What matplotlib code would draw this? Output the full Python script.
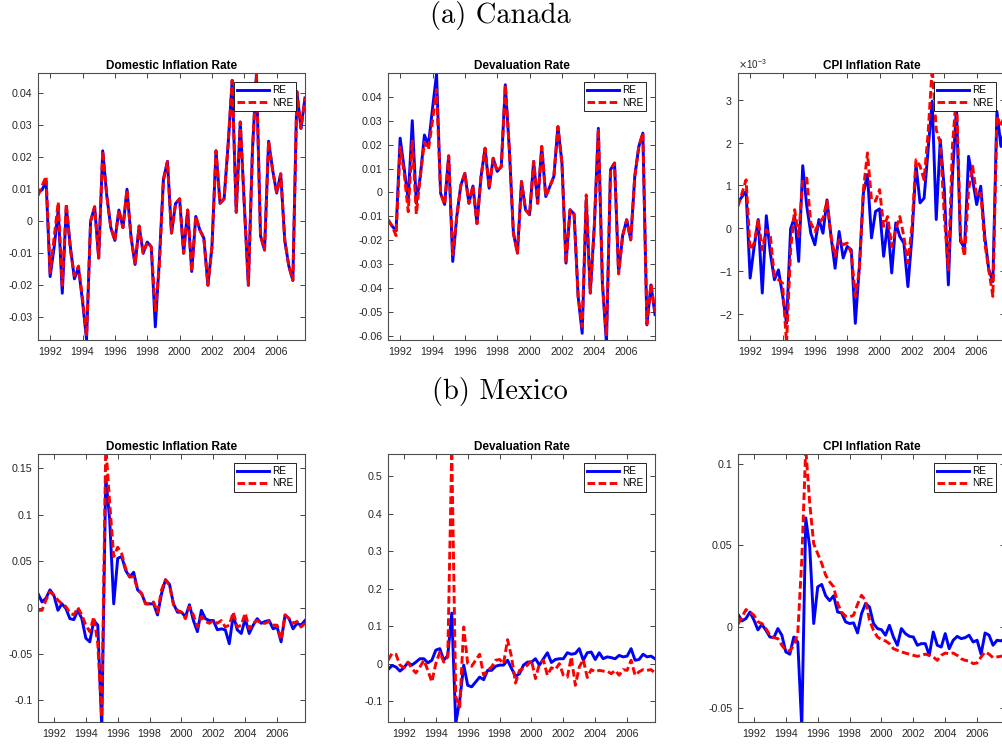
import numpy as np
import matplotlib
matplotlib.use("Agg")
import matplotlib.pyplot as plt
from matplotlib.ticker import MultipleLocator, FuncFormatter, ScalarFormatter
from matplotlib.lines import Line2D

plt.rcParams["font.family"] = ["Liberation Sans", "DejaVu Sans"]
plt.rcParams["axes.unicode_minus"] = False

# quarterly sample, Canada 1991Q2-2007Q4, Mexico 1991Q1-2007Q4
can_start, can_n = 1991.25, 67
mex_start, mex_n = 1991.0, 68

# ---- Canada ----
can_dom_re = [0.009, 0.0098, 0.0124, -0.0173, -0.008, 0.0035, -0.0225, 0.0045, -0.008, -0.018,
              -0.0145, -0.025, -0.037, 0.0, 0.0045, -0.0115, 0.022, 0.008, -0.002, -0.006,
              0.0035, -0.002, 0.01, -0.005, -0.0135, -0.0015, -0.01, -0.0065, -0.008, -0.033,
              -0.012, 0.013, 0.0187, -0.0037, 0.0055, 0.007, -0.01, 0.0035, -0.0157, 0.0015,
              -0.0027, -0.0053, -0.02, -0.008, 0.022, 0.0056, 0.007, 0.024, 0.044, 0.0028,
              0.031, 0.005, -0.02, 0.022, 0.046, -0.0045, -0.009, 0.025, 0.016, 0.0088,
              0.0148, -0.006, -0.014, -0.0185, 0.0405, 0.029, 0.0385]
can_dom_nre = [0.008, 0.011, 0.014, -0.016, -0.005, 0.006, -0.02, 0.0055, -0.009, -0.017,
               -0.014, -0.024, -0.036, 0.0, 0.0045, -0.0115, 0.022, 0.008, -0.002, -0.006,
               0.0035, -0.002, 0.01, -0.005, -0.0135, -0.0015, -0.01, -0.0065, -0.008, -0.028,
               -0.014, 0.013, 0.0187, -0.0037, 0.0055, 0.007, -0.01, 0.0035, -0.0157, 0.0015,
               -0.0027, -0.0053, -0.02, -0.008, 0.022, 0.0056, 0.007, 0.024, 0.044, 0.0028,
               0.031, 0.005, -0.02, 0.022, 0.046, -0.0045, -0.009, 0.025, 0.016, 0.0088,
               0.0148, -0.006, -0.014, -0.0185, 0.0405, 0.029, 0.0385]

can_dev_re = [-0.0114, -0.014, -0.016, 0.0227, 0.01, -0.003, 0.03, -0.0045, 0.007, 0.024,
              0.02, 0.035, 0.0495, -0.0003, -0.005, 0.0153, -0.0288, -0.01, 0.003, 0.008,
              -0.0045, 0.0027, -0.013, 0.0067, 0.0185, 0.0018, 0.0143, 0.0088, 0.0108, 0.045,
              0.0178, -0.017, -0.0253, 0.0046, -0.0072, -0.0093, 0.013, -0.0045, 0.0192, -0.0017,
              0.0025, 0.0067, 0.0275, 0.0123, -0.0295, -0.0072, -0.009, -0.0435, -0.0588, -0.003,
              -0.042, -0.014, 0.0268, -0.038, -0.063, 0.0095, 0.0123, -0.0337, -0.018, -0.0114,
              -0.0198, 0.0067, 0.0192, 0.0248, -0.0553, -0.0386, -0.051]
can_dev_nre = [-0.0114, -0.014, -0.018, 0.019, 0.008, -0.008, 0.022, -0.009, 0.007, 0.021,
               0.018, 0.03, 0.043, -0.0003, -0.005, 0.0153, -0.026, -0.01, 0.003, 0.008,
               -0.0045, 0.0027, -0.013, 0.0067, 0.0185, 0.0018, 0.0143, 0.0088, 0.0108, 0.045,
               0.0178, -0.017, -0.0253, 0.0046, -0.0072, -0.0093, 0.013, -0.0045, 0.0192, -0.0017,
               0.0025, 0.0067, 0.0275, 0.0123, -0.0295, -0.0072, -0.009, -0.0435, -0.056, -0.001,
               -0.042, -0.014, 0.0268, -0.038, -0.06, 0.0095, 0.0123, -0.034, -0.018, -0.0114,
               -0.0198, 0.0067, 0.0192, 0.0248, -0.055, -0.038, -0.05]

# CPI inflation, in units of 1e-3
can_cpi_re = [0.59, 0.74, 0.86, -1.17, -0.43, 0.2, -1.52, 0.29, -0.59, -1.21,
              -0.98, -1.56, -2.23, -0.02, 0.27, -0.78, 1.46, 0.51, -0.12, -0.39,
              0.2, -0.12, 0.66, -0.2, -0.94, -0.08, -0.7, -0.43, -0.51, -2.23,
              -0.9, 0.82, 1.25, -0.23, 0.39, 0.45, -0.66, 0.12, -1.05, 0.12,
              -0.2, -0.35, -1.37, -0.2, 1.48, 0.59, 0.7, 1.84, 2.97, 0.2,
              2.07, 0.9, -1.33, 1.21, 2.81, -0.31, -0.47, 1.68, 1.13, 0.55,
              0.98, -0.2, -0.98, -1.25, 2.73, 1.91, 2.38]
can_cpi_nre = [0.51, 0.82, 1.13, -0.51, -0.35, 0.2, -0.51, -0.04, -0.2, -1.13,
               -1.21, -1.29, -2.7, -0.51, 0.43, -0.2, 1.13, 1.17, 0.12, -0.08,
               0.12, 0.23, 0.63, -0.2, -0.66, -0.27, -0.39, -0.35, -0.59, -1.6,
               -0.98, 0.9, 1.76, 0.66, 0.63, 0.9, 0.04, 0.27, -0.43, -0.04,
               0.27, -0.2, -0.82, 0.04, 1.6, 1.45, 1.13, 2.23, 3.75, 2.3,
               2.0, 0.27, -0.98, 1.91, 3.16, -0.2, -0.66, 0.9, 1.45, 0.74,
               0.82, -0.35, -0.98, -1.6, 2.62, 2.38, 2.7]

# ---- Mexico ----
mex_dom_re = [0.015, 0.006, 0.01, 0.019, 0.013, -0.003, 0.004, -0.001, -0.012, -0.013,
              -0.003, -0.012, -0.033, -0.037, -0.014, -0.019, -0.13, 0.141, 0.094, 0.004,
              0.053, 0.055, 0.04, 0.033, 0.038, 0.019, 0.015, 0.004, 0.004, 0.004,
              -0.008, 0.015, 0.03, 0.025, 0.004, -0.005, -0.005, -0.01, 0.003, -0.014,
              -0.026, -0.003, -0.012, -0.014, -0.014, -0.024, -0.023, -0.024, -0.039, -0.008,
              -0.024, -0.028, -0.012, -0.028, -0.019, -0.012, -0.017, -0.015, -0.014, -0.023,
              -0.021, -0.037, -0.008, -0.012, -0.023, -0.017, -0.019, -0.014]
mex_dom_nre = [-0.003, -0.003, 0.008, 0.017, 0.013, 0.008, 0.004, 0.001, -0.006, -0.008,
               0.0, -0.008, -0.019, -0.026, -0.01, -0.039, -0.118, 0.175, 0.112, 0.055,
               0.065, 0.058, 0.042, 0.033, 0.033, 0.02, 0.015, 0.004, 0.004, 0.006,
               -0.005, 0.019, 0.03, 0.024, 0.003, -0.003, -0.005, -0.012, 0.001, -0.008,
               -0.021, -0.01, -0.015, -0.017, -0.014, -0.017, -0.014, -0.021, -0.019, -0.005,
               -0.021, -0.019, -0.006, -0.023, -0.017, -0.014, -0.017, -0.017, -0.015, -0.019,
               -0.019, -0.035, -0.008, -0.012, -0.017, -0.015, -0.021, -0.017]

mex_dev_re = [-0.016, -0.005, -0.009, -0.02, -0.011, 0.003, -0.004, 0.004, 0.013, 0.013,
              0.002, 0.009, 0.036, 0.04, 0.009, 0.022, 0.135, -0.16, -0.098, -0.004,
              -0.058, -0.062, -0.049, -0.036, -0.043, -0.018, -0.018, -0.007, -0.004, -0.004,
              0.009, -0.013, -0.034, -0.027, -0.004, 0.004, 0.004, 0.013, -0.004, 0.013,
              0.029, 0.003, 0.011, 0.013, 0.013, 0.029, 0.025, 0.027, 0.04, 0.009,
              0.029, 0.031, 0.011, 0.029, 0.013, 0.018, 0.016, 0.013, 0.022, 0.018,
              0.02, 0.04, 0.009, 0.011, 0.025, 0.018, 0.02, 0.013]
mex_dev_nre = [0.009, 0.027, 0.025, -0.004, -0.011, 0.004, -0.013, -0.025, -0.009, 0.009,
               -0.018, -0.049, 0.0, 0.031, 0.004, 0.018, 0.57, -0.089, -0.116, 0.098,
               0.0, -0.007, 0.009, 0.025, -0.031, -0.018, -0.009, 0.009, 0.011, 0.0,
               0.064, 0.018, -0.052, -0.018, -0.013, -0.004, 0.009, -0.04, 0.0, 0.009,
               -0.031, -0.011, -0.016, 0.0, -0.031, -0.036, 0.018, -0.058, -0.009, 0.011,
               -0.037, -0.016, -0.022, -0.018, -0.02, -0.02, -0.027, -0.018, -0.031, -0.016,
               -0.018, 0.009, -0.031, -0.022, -0.016, -0.018, -0.016, -0.025]

mex_cpi_re = [0.0076, 0.0035, 0.005, 0.009, 0.004, -0.002, 0.0014, -0.0023, -0.0064, -0.0068,
              -0.0012, -0.0053, -0.0156, -0.017, -0.0064, -0.0095, -0.062, 0.067, 0.049, 0.0019,
              0.0245, 0.026, 0.019, 0.016, 0.019, 0.009, 0.0084, 0.0029, 0.0019, 0.0023,
              -0.0039, 0.008, 0.0142, 0.0121, 0.0019, -0.0012, -0.0019, -0.0053, 0.0008, -0.0064,
              -0.0115, -0.0012, -0.0043, -0.006, -0.0064, -0.0115, -0.0105, -0.0105, -0.0177, -0.0033,
              -0.0115, -0.0126, -0.0043, -0.0136, -0.0084, -0.006, -0.0074, -0.0068, -0.0053, -0.0095,
              -0.0084, -0.017, -0.0039, -0.0053, -0.0115, -0.0084, -0.0088, -0.0074]
mex_cpi_nre = [0.0014, 0.006, 0.0105, 0.009, 0.007, 0.0029, 0.0019, -0.0012, -0.0053, -0.0068,
               -0.0074, -0.0115, -0.0146, -0.015, -0.0115, -0.0043, 0.041, 0.11, 0.076, 0.051,
               0.045, 0.039, 0.0317, 0.0276, 0.0245, 0.0142, 0.009, 0.0064, 0.006, 0.007,
               0.0138, 0.0193, 0.0163, 0.0039, -0.0023, -0.0064, -0.008, -0.0088, -0.0105, -0.0136,
               -0.0146, -0.0156, -0.0163, -0.017, -0.0177, -0.0183, -0.0177, -0.017, -0.0177, -0.0187,
               -0.0208, -0.0177, -0.0163, -0.0167, -0.0163, -0.0177, -0.0198, -0.0208, -0.0212, -0.0228,
               -0.0224, -0.0187, -0.0156, -0.017, -0.0191, -0.0187, -0.0183, -0.0177]

titles = ["Domestic Inflation Rate", "Devaluation Rate", "CPI Inflation Rate"]
year_ticks = np.arange(1992, 2007, 2)

W, H = 1003, 747
fig = plt.figure(figsize=(W / 100, H / 100), dpi=100)

lefts = [38, 388, 738]
ax_w = 267
rows = [(73, 340), (454, 722)]

GRAY = "#262626"
LW = 2.1
DASH = (0, (2.6, 1.2))


def make_ax(col, row):
    top, bot = rows[row]
    return fig.add_axes([lefts[col] / W, 1 - bot / H, ax_w / W, (bot - top) / H])


def panel(ax, x, re, nre, title, ylim, step, scaled=False):
    ax.plot(x, re, color="#0000ff", lw=LW)
    ax.plot(x, nre, color="#ff0000", lw=LW, ls=DASH)
    ax.set_xlim(x[0], x[-1])
    ax.set_ylim(*ylim)
    ax.set_xticks(year_ticks)
    ax.yaxis.set_major_locator(MultipleLocator(step))
    if scaled:
        fmt = ScalarFormatter(useMathText=True)
        fmt.set_powerlimits((-2, 2))
        ax.yaxis.set_major_formatter(fmt)
        ax.yaxis.get_offset_text().set_color(GRAY)
        ax.yaxis.get_offset_text().set_fontsize(7)
    else:
        ax.yaxis.set_major_formatter(FuncFormatter(lambda v, p: "%g" % round(v, 6)))
    ax.tick_params(direction="in", top=True, right=True, length=3.5, width=0.6,
                   color=GRAY, labelcolor=GRAY, labelsize=7.7)
    ax.tick_params(axis="x", pad=5)
    ax.tick_params(axis="y", pad=4)
    for s in ax.spines.values():
        s.set_color("0.3")
        s.set_linewidth(0.8)
    ax.set_title(title, fontsize=8.5, fontweight="bold", pad=3, color="black")
    handles = [Line2D([], [], color="#0000ff", lw=LW),
               Line2D([], [], color="#ff0000", lw=LW, ls=DASH)]
    leg = ax.legend(handles, ["RE", "NRE"], loc="upper right", fontsize=7.2,
                    handlelength=3.2, handletextpad=0.3, borderpad=0.3,
                    labelspacing=0.25, borderaxespad=0.9, fancybox=False,
                    framealpha=1, edgecolor="black")
    leg.get_frame().set_linewidth(0.6)


xc = can_start + 0.25 * np.arange(can_n)
xm = mex_start + 0.25 * np.arange(mex_n)

panel(make_ax(0, 0), xc, can_dom_re, can_dom_nre, titles[0], (-0.0371, 0.0463), 0.01)
panel(make_ax(1, 0), xc, can_dev_re, can_dev_nre, titles[1], (-0.0616, 0.0499), 0.01)
panel(make_ax(2, 0), xc, np.array(can_cpi_re) * 1e-3, np.array(can_cpi_nre) * 1e-3,
      titles[2], (-2.62e-3, 3.63e-3), 1e-3, scaled=True)

panel(make_ax(0, 1), xm, mex_dom_re, mex_dom_nre, titles[0], (-0.1234, 0.1655), 0.05)
panel(make_ax(1, 1), xm, mex_dev_re, mex_dev_nre, titles[1], (-0.156, 0.56), 0.1)
panel(make_ax(2, 1), xm, mex_cpi_re, mex_cpi_nre, titles[2], (-0.0588, 0.1064), 0.05)

fig.text(500 / W, 1 - 15.5 / H, "(a) Canada", family="cmr10", fontsize=20.5,
         ha="center", va="center")
fig.text(500 / W, 1 - 392 / H, "(b) Mexico", family="cmr10", fontsize=20.5,
         ha="center", va="center")

fig.savefig("out.png", dpi=100)
